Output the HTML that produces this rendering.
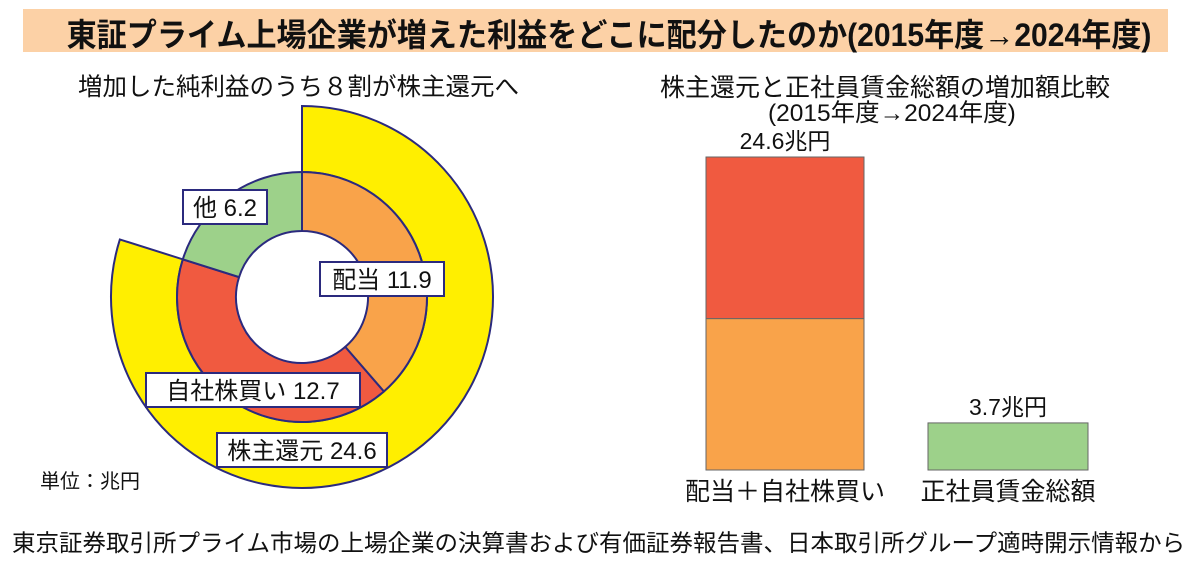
<!DOCTYPE html>
<html><head><meta charset="utf-8"><style>
body{margin:0;width:1200px;height:565px;background:#fff;overflow:hidden;font-family:"Liberation Sans","Noto Sans CJK JP",sans-serif;}
.t{position:absolute;white-space:nowrap;color:#111}
</style></head><body>
<div style="position:absolute;left:23px;top:9px;width:1145px;height:43px;background:#fcd1a6"></div>
<div class="t" style="left:0;width:1218px;text-align:center;top:10px;font-size:32px;font-weight:bold;transform:scaleX(0.94);transform-origin:609px 0">東証プライム上場企業が増えた利益をどこに配分したのか(2015年度→2024年度)</div>
<div class="t" style="left:78px;top:68px;font-size:24.5px">増加した純利益のうち８割が株主還元へ</div>
<div class="t" style="left:660px;top:68px;font-size:25px">株主還元と正社員賃金総額の増加額比較</div>
<div class="t" style="left:768px;top:94px;font-size:24.5px">(2015年度→2024年度)</div>
<div class="t" style="left:40px;top:465px;font-size:20px">単位：兆円</div>
<div class="t" style="left:12px;top:524px;font-size:23.5px">東京証券取引所プライム市場の上場企業の決算書および有価証券報告書、日本取引所グループ適時開示情報から</div>
<svg id="c" width="1200" height="565" style="position:absolute;left:0;top:0"></svg>
<script>
const innerLabels=["配当","自社株買い","他"];
const innerValues=[11.9,12.7,6.2];
const innerColors=["#f9a34a","#f05a40","#9dd18a"];
const outerLabel="株主還元";
const outerValue=24.6;
const barCats=["配当＋自社株買い","正社員賃金総額"];
const barStack1=[11.9,12.7];
const barValue2=[3.7];
const barLabels=["24.6兆円","3.7兆円"];
const NS="http://www.w3.org/2000/svg";
const svg=document.getElementById('c');
function mk(t,a){const e=document.createElementNS(NS,t);for(const k in a)e.setAttribute(k,a[k]);svg.appendChild(e);return e;}
const cx=302,cy=297,r0=66,r1=125,r2=191,stroke="#2b2a7e";
const total=innerValues.reduce((a,b)=>a+b,0);
function pt(r,a){const t=a/total*2*Math.PI;return [cx+r*Math.sin(t),cy-r*Math.cos(t)];}
function arc(ri,ro,a0,a1){const big=(a1-a0)/total>0.5?1:0;const p1=pt(ro,a0),p2=pt(ro,a1),p3=pt(ri,a1),p4=pt(ri,a0);
return `M${p1}L${p1}A${ro},${ro} 0 ${big} 1 ${p2}L${p3}A${ri},${ri} 0 ${big} 0 ${p4}Z`;}
let o=mk('path',{d:arc(r1,r2,0,outerValue),fill:"#ffef00",stroke:stroke,'stroke-width':2});


let acc=0;
innerValues.forEach((v,i)=>{const p=mk('path',{d:arc(r0,r1,acc,acc+v),fill:innerColors[i],stroke:stroke,'stroke-width':2});


acc+=v;});
function box(x,y,w,txt,name){const g=mk('g',{});


const r=document.createElementNS(NS,'rect');Object.entries({x:x,y:y,width:w,height:34,fill:"#fff",stroke:stroke,'stroke-width':2}).forEach(([k,v])=>r.setAttribute(k,v));g.appendChild(r);
const t=document.createElementNS(NS,'text');Object.entries({x:x+w/2,y:y+26,'text-anchor':'middle','font-size':24,fill:'#111'}).forEach(([k,v])=>t.setAttribute(k,v));t.textContent=txt;g.appendChild(t);}
box(183,190,84,innerLabels[2]+" "+innerValues[2],'label-other');
box(320,262,124,innerLabels[0]+" "+innerValues[0],'label-dividend');
box(146,373,214,innerLabels[1]+" "+innerValues[1],'label-buyback');
box(217,433,170,outerLabel+" "+outerValue,'label-shareholder-return');
const base=470,scale=313/24.6;
function y(v){return base-v*scale;}
const cols=["#f9a34a","#f05a40"];
let s=0;
barStack1.forEach((v,i)=>{const b=mk('rect',{x:706,y:y(s+v),width:158,height:v*scale,fill:cols[i],stroke:"#666",'stroke-width':1});


s+=v;});
const g2=mk('rect',{x:928,y:y(barValue2[0]),width:160,height:barValue2[0]*scale,fill:"#9dd18a",stroke:"#666",'stroke-width':1});


const tops=[s,barValue2[0]],cxs=[785,1008];
tops.forEach((v,i)=>{const t=mk('text',{x:cxs[i],y:y(v)-8,'text-anchor':'middle','font-size':23,fill:'#111'});t.textContent=barLabels[i];


const c=mk('text',{x:cxs[i],y:500,'text-anchor':'middle','font-size':25,fill:'#111'});c.textContent=barCats[i];

});
</script>
</body></html>
